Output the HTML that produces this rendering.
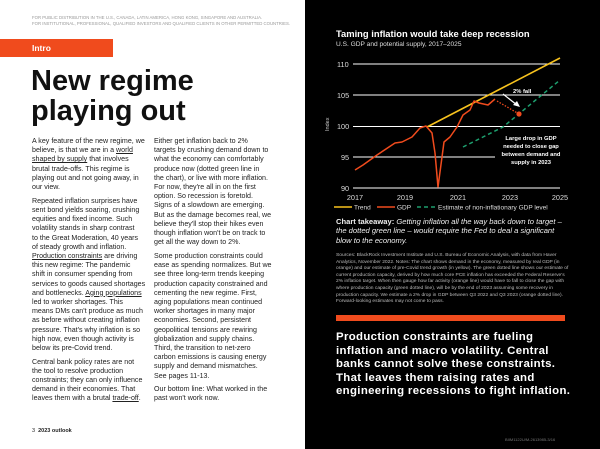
<!DOCTYPE html><html><head><style>
body{margin:0;width:600px;height:449px;overflow:hidden;background:#000;font-family:"Liberation Sans",sans-serif;position:relative}
.w{position:absolute;left:0;top:0;width:305px;height:449px;background:#fff}
.p{position:absolute;font-size:7.1px;line-height:9.2px;color:#222;white-space:nowrap}
.p p{margin:0 0 4.5px}
u{text-decoration:underline}
</style></head><body>
<div class="w">
<div style="position:absolute;left:32px;top:15px;font-size:4.3px;color:#999;line-height:6px">FOR PUBLIC DISTRIBUTION IN THE U.S., CANADA, LATIN AMERICA, HONG KONG, SINGAPORE AND AUSTRALIA.<br>FOR INSTITUTIONAL, PROFESSIONAL, QUALIFIED INVESTORS AND QUALIFIED CLIENTS IN OTHER PERMITTED COUNTRIES.</div>
<div style="position:absolute;left:0;top:39px;width:113px;height:18px;background:#f04b1d;color:#fff;font-weight:bold;font-size:8.5px;line-height:18px;padding-left:32px;box-sizing:border-box">Intro</div>
<div style="position:absolute;left:31px;top:66px;font-size:29px;font-weight:bold;line-height:30px;color:#111">New regime<br>playing out</div>
<div class="p" style="left:32px;top:137px">
<p>A key feature of the new regime, we<br>believe, is that we are in a <u>world</u><br><u>shaped by supply</u> that involves<br>brutal trade-offs. This regime is<br>playing out and not going away, in<br>our view.</p>
<p>Repeated inflation surprises have<br>sent bond yields soaring, crushing<br>equities and fixed income. Such<br>volatility stands in sharp contrast<br>to the Great Moderation, 40 years<br>of steady growth and inflation.<br><u>Production constraints</u> are driving<br>this new regime: The pandemic<br>shift in consumer spending from<br>services to goods caused shortages<br>and bottlenecks. <u>Aging populations</u><br>led to worker shortages. This<br>means DMs can't produce as much<br>as before without creating inflation<br>pressure. That's why inflation is so<br>high now, even though activity is<br>below its pre-Covid trend.</p>
<p>Central bank policy rates are not<br>the tool to resolve production<br>constraints; they can only influence<br>demand in their economies. That<br>leaves them with a brutal <u>trade-off</u>.</p></div>
<div class="p" style="left:154px;top:137px">
<p>Either get inflation back to 2%<br>targets by crushing demand down to<br>what the economy can comfortably<br>produce now (dotted green line in<br>the chart), or live with more inflation.<br>For now, they're all in on the first<br>option. So recession is foretold.<br>Signs of a slowdown are emerging.<br>But as the damage becomes real, we<br>believe they'll stop their hikes even<br>though inflation won't be on track to<br>get all the way down to 2%.</p>
<p>Some production constraints could<br>ease as spending normalizes. But we<br>see three long-term trends keeping<br>production capacity constrained and<br>cementing the new regime. First,<br>aging populations mean continued<br>worker shortages in many major<br>economies. Second, persistent<br>geopolitical tensions are rewiring<br>globalization and supply chains.<br>Third, the transition to net-zero<br>carbon emissions is causing energy<br>supply and demand mismatches.<br>See pages 11-13.</p>
<p>Our bottom line: What worked in the<br>past won't work now.</p></div>
<div style="position:absolute;left:32px;top:428px;font-size:5.5px;color:#222">3 &nbsp;<b>2023 outlook</b></div>
</div>
<div style="position:absolute;left:336px;top:28px;color:#fff;font-weight:bold;font-size:9.4px">Taming inflation would take deep recession</div>
<div style="position:absolute;left:336px;top:41px;color:#ddd;font-size:6.6px">U.S. GDP and potential supply, 2017–2025</div>
<svg style="position:absolute;left:0;top:0" width="600" height="449" font-family="Liberation Sans">
<g stroke="#fff" stroke-width="0.9"><line x1="353" y1="64" x2="560" y2="64"/><line x1="353" y1="95" x2="560" y2="95"/><line x1="353" y1="126.5" x2="560" y2="126.5"/><line x1="353" y1="157" x2="495" y2="157"/><line x1="353" y1="188" x2="560" y2="188"/></g>
<g fill="#ddd" font-size="7.3"><text x="337" y="67">110</text><text x="337" y="98">105</text><text x="337" y="129">100</text><text x="341" y="160">95</text><text x="341" y="191">90</text>
<text x="355" y="200" text-anchor="middle">2017</text><text x="405" y="200" text-anchor="middle">2019</text><text x="458" y="200" text-anchor="middle">2021</text><text x="510" y="200" text-anchor="middle">2023</text><text x="560" y="200" text-anchor="middle">2025</text></g>
<text transform="translate(329,131) rotate(-90)" fill="#ccc" font-size="5.5">Index</text>
<polyline points="427,127 560,58" stroke="#f7c21e" stroke-width="1.6" fill="none"/>
<polyline points="463,147 503,127 560,80" stroke="#1d9e6e" stroke-width="1.5" stroke-dasharray="4,3" fill="none"/>
<polyline points="355,170 363,165 377,155 395,143 402,142 412,137 420,128 426,126 432,133 435,153 438,187 444,142 450,137 457,127 463,115 470,110 474,101 479,103 488,105 495,99" stroke="#f04b1d" stroke-width="1.5" fill="none" stroke-linejoin="round"/>
<line x1="497" y1="101" x2="519" y2="114" stroke="#f04b1d" stroke-width="1.3" stroke-dasharray="1.5,1.5"/>
<circle cx="519" cy="114" r="2.6" fill="#f04b1d"/>
<line x1="503" y1="94" x2="517" y2="105" stroke="#fff" stroke-width="1.2"/><polygon points="520,107 513,105 517,101" fill="#fff"/>
<text x="513" y="93" fill="#fff" font-size="5.8" font-weight="bold">2% fall</text>
<g fill="#fff" font-size="5.8" font-weight="bold" text-anchor="middle"><text x="531" y="140">Large drop in GDP</text><text x="531" y="148">needed to close gap</text><text x="531" y="156">between demand and</text><text x="531" y="164">supply in 2023</text></g>
<line x1="334" y1="207" x2="352" y2="207" stroke="#f7c21e" stroke-width="1.6"/><text x="354" y="209.5" fill="#ddd" font-size="6.5">Trend</text>
<line x1="377" y1="207" x2="395" y2="207" stroke="#f04b1d" stroke-width="1.6"/><text x="397" y="209.5" fill="#ddd" font-size="6.5">GDP</text>
<line x1="417" y1="207" x2="435" y2="207" stroke="#1d9e6e" stroke-width="1.5" stroke-dasharray="4,3"/><text x="438" y="209.5" fill="#ddd" font-size="6.5">Estimate of non-inflationary GDP level</text>
<rect x="336" y="315" width="229" height="6" fill="#f04b1d"/>
</svg>
<div style="position:absolute;left:336px;top:217px;color:#eee;font-size:7.6px;line-height:9.3px;white-space:nowrap"><b>Chart takeaway:</b> <i>Getting inflation all the way back down to target –<br>the dotted green line – would require the Fed to deal a significant<br>blow to the economy.</i></div>
<div style="position:absolute;left:336px;top:253px;width:234px;color:#bbb;font-size:4.9px;line-height:6.6px">Sources: BlackRock Investment Institute and U.S. Bureau of Economic Analysis, with data from Haver Analytics, November 2022. Notes: The chart shows demand in the economy, measured by real GDP (in orange) and our estimate of pre-Covid trend growth (in yellow). The green dotted line shows our estimate of current production capacity, derived by how much core PCE inflation has exceeded the Federal Reserve's 2% inflation target. When then gauge how far activity (orange line) would have to fall to close the gap with where production capacity (green dotted line), will be by the end of 2023 assuming some recovery in production capacity. We estimate a 2% drop in GDP between Q3 2022 and Q3 2023 (orange dotted line). Forward-looking estimates may not come to pass.</div>
<div style="position:absolute;left:336px;top:331px;color:#fff;font-weight:bold;font-size:11.4px;line-height:13.6px;letter-spacing:0.35px;white-space:nowrap">Production constraints are fueling<br>inflation and macro volatility. Central<br>banks cannot solve these constraints.<br>That leaves them raising rates and<br>engineering recessions to fight inflation.</div>
<div style="position:absolute;left:505px;top:437px;color:#777;font-size:4px">BIIM1122U/M-2613985-3/16</div>
</body></html>
